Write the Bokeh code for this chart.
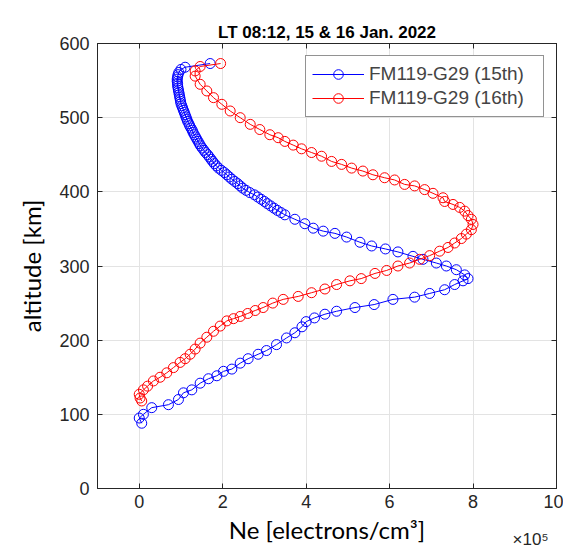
from bokeh.plotting import figure
from bokeh.models import Range1d, LinearAxis, Title, FixedTicker, CustomJSTickFormatter
from bokeh.embed import file_html
from bokeh.resources import INLINE

# Electron density in units of 1e5 electrons/cm^3, altitude in km
ne_15 = [0.06, 0.0, 0.1, 0.3, 0.7, 0.94, 1.06, 1.26, 1.46, 1.66, 1.86, 2.02, 2.22, 2.42, 2.61,
         2.85, 3.05, 3.29, 3.53, 3.73, 3.9, 4.0, 4.2, 4.45, 4.73, 5.17, 5.63, 6.08, 6.6, 6.96,
         7.32, 7.56, 7.76, 7.88, 7.8, 7.6, 7.36, 7.12, 6.8, 6.56, 6.2, 5.9, 5.57, 5.29, 4.97,
         4.69, 4.41, 4.17, 3.97, 3.73, 3.49, 3.40, 3.31, 3.23, 3.15, 3.07, 3.00, 2.92, 2.84,
         2.76, 2.65, 2.56, 2.48, 2.42, 2.36, 2.29, 2.22, 2.16, 2.10, 2.04, 1.97, 1.90, 1.85,
         1.80, 1.76, 1.72, 1.68, 1.64, 1.59, 1.55, 1.51, 1.47, 1.44, 1.41, 1.38, 1.35, 1.32,
         1.29, 1.27, 1.24, 1.21, 1.19, 1.16, 1.14, 1.12, 1.10, 1.08, 1.06, 1.04, 1.02, 1.00,
         0.99, 0.98, 0.97, 0.96, 0.95, 0.94, 0.93, 0.92, 0.92, 0.91, 0.91, 0.92, 0.93, 0.95,
         1.0, 1.1, 1.7]
alt_15 = [88, 95, 100, 109, 113, 120, 129, 133, 142, 148, 152, 158, 161, 169, 175,
          181, 186, 194, 203, 210, 218, 225, 230, 235, 239, 244, 248, 255, 258, 263,
          268, 275, 280, 283, 288, 295, 300, 304, 309, 313, 319, 323, 327, 332, 339,
          344, 347, 351, 357, 363, 369, 372, 375, 378, 381, 384, 387, 390, 393,
          396, 399, 402, 405, 408, 411, 414, 417, 420, 423, 426, 429, 432, 435,
          438, 441, 444, 447, 450, 453, 456, 459, 462, 465, 468, 471, 474, 477,
          480, 483, 486, 489, 492, 495, 498, 501, 504, 507, 510, 513, 516, 519,
          522, 525, 528, 531, 534, 537, 540, 543, 546, 549, 552, 555, 558, 561,
          565, 568, 573]

ne_16 = [0.06, 0.02, 0.0, 0.1, 0.2, 0.34, 0.5, 0.66, 0.82, 0.98, 1.1, 1.22, 1.34, 1.46, 1.62,
         1.78, 1.94, 2.1, 2.26, 2.42, 2.6, 2.78, 2.97, 3.2, 3.45, 3.81, 4.13, 4.45, 4.73, 5.05,
         5.32, 5.65, 5.93, 6.2, 6.48, 6.72, 6.96, 7.2, 7.4, 7.56, 7.72, 7.84, 7.96, 8.0, 7.96,
         7.88, 7.8, 7.68, 7.52, 7.32, 7.28, 7.04, 6.84, 6.6, 6.36, 6.12, 5.88, 5.6, 5.36, 5.09,
         4.85, 4.61, 4.37, 4.13, 3.89, 3.69, 3.49, 3.33, 3.13, 2.89, 2.66, 2.42, 2.18, 1.98,
         1.78, 1.62, 1.46, 1.34, 1.34, 1.46, 1.95]
alt_16 = [118, 122, 127, 133, 138, 145, 150, 156, 163, 170, 175, 181, 188, 196, 204,
          212, 219, 226, 229, 232, 236, 240, 244, 250, 255, 259, 264, 269, 275, 280,
          283, 290, 294, 300, 304, 309, 314, 320, 325, 331, 337, 343, 349, 356, 363,
          368, 374, 379, 383, 387, 392, 398, 403, 408, 410, 416, 419, 423, 428, 432,
          437, 441, 448, 453, 458, 463, 468, 473, 477, 484, 491, 500, 509, 518,
          527, 536, 545, 556, 563, 569, 573]

x_ticks = [0, 2, 4, 6, 8, 10]
y_ticks = [0, 100, 200, 300, 400, 500, 600]

FONT = "Liberation Sans"
DARK = "#262626"

p = figure(frame_width=459, frame_height=445, x_range=Range1d(-1, 10), y_range=Range1d(0, 600),
           output_backend="svg", toolbar_location=None,
           min_border_left=97, min_border_right=7, min_border_top=43, min_border_bottom=64)

p.title.text = "LT 08:12, 15 & 16 Jan. 2022"
p.title.align = "center"
p.title.text_font = FONT
p.title.text_font_size = "17px"
p.title.text_font_style = "bold"
p.title.text_color = "#000000"
p.title.standoff = 4

for ax in (p.xaxis[0], p.yaxis[0]):
    ax.major_tick_in = 5
    ax.major_tick_out = 0
    ax.minor_tick_line_color = None
    ax.axis_line_color = DARK
    ax.major_tick_line_color = DARK
    ax.major_label_text_font = FONT
    ax.major_label_text_font_size = "18px"
    ax.major_label_text_color = DARK
    ax.axis_label_text_font = "Lato"
    ax.axis_label_text_font_style = "normal"
    ax.axis_label_text_color = "#000000"
    ax.axis_label_text_font_size = "24px"

p.xaxis.ticker = FixedTicker(ticks=x_ticks)
p.yaxis.ticker = FixedTicker(ticks=y_ticks)
p.xaxis.axis_label = "Ne [electrons/cm³]"
p.xaxis.axis_label_standoff = 4
p.xaxis.major_label_standoff = 6
p.yaxis.axis_label = "altitude [km]"
p.yaxis.major_label_standoff = 8
p.yaxis.axis_label_standoff = 10

blank = CustomJSTickFormatter(code="return '';")
for loc, t in (("right", y_ticks), ("above", x_ticks)):
    ax = LinearAxis(ticker=FixedTicker(ticks=t), major_tick_in=5, major_tick_out=0,
                    minor_tick_line_color=None, axis_line_color=DARK,
                    major_tick_line_color=DARK, formatter=blank,
                    major_label_standoff=0)
    p.add_layout(ax, loc)

p.xgrid.ticker = FixedTicker(ticks=x_ticks)
p.ygrid.ticker = FixedTicker(ticks=y_ticks)
p.grid.grid_line_color = "#e3e3e3"
p.grid.grid_line_width = 1
p.outline_line_color = DARK

p.line(ne_15, alt_15, line_color="#0000ff", line_width=1, legend_label="FM119-G29 (15th)")
p.scatter(ne_15, alt_15, marker="circle", size=10, fill_color=None, line_color="#0000ff",
          line_width=1, legend_label="FM119-G29 (15th)")
p.line(ne_16, alt_16, line_color="#ff0000", line_width=1, legend_label="FM119-G29 (16th)")
p.scatter(ne_16, alt_16, marker="circle", size=10, fill_color=None, line_color="#ff0000",
          line_width=1, legend_label="FM119-G29 (16th)")

lg = p.legend[0]
lg.location = "top_right"
lg.margin = 12
lg.padding = 6
lg.spacing = 0
lg.glyph_width = 52
lg.glyph_height = 24
lg.label_height = 24
lg.label_width = 168
lg.label_standoff = 5
lg.label_text_font = FONT
lg.label_text_font_size = "19px"
lg.border_line_color = DARK
lg.border_line_width = 1
lg.background_fill_alpha = 1

mult = Title(text="×10⁵", align="right", vertical_align="top", text_font=FONT,
             text_font_size="17px", text_font_style="normal", text_color=DARK,
             standoff=-34, offset=8)
p.add_layout(mult, "below")

open("out.html", "w").write(file_html(p, INLINE))
